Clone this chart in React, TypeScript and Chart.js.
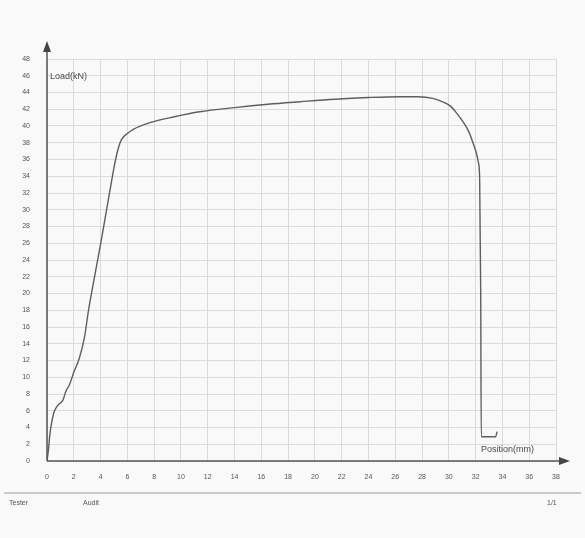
import React, { useEffect, useRef } from "react";
import { Chart, registerables } from "chart.js";

Chart.register(...registerables);

const positionMm = [
  0, 0.12, 0.2, 0.35, 0.5, 0.7, 0.9, 1.2, 1.4, 1.7, 2.0, 2.4, 2.8, 3.1, 3.4, 3.7, 4.0, 4.33, 4.7,
  5.07, 5.35, 5.57, 6.0, 6.44, 7.69, 9.5, 11.4, 14, 16.5, 18.9, 21.5, 24, 26.3, 27.7, 28.8, 29.5,
  30.1, 30.6, 31.1, 31.5, 31.8, 32.05, 32.2, 32.3, 32.38, 32.42, 33.0, 33.5, 33.6,
];
const loadKn = [
  0, 1.5, 3.0, 4.6, 5.7, 6.4, 6.8, 7.3, 8.3, 9.2, 10.6, 12.2, 14.8, 18, 20.7, 23.3, 25.9, 28.9, 32.3,
  35.6, 37.5, 38.4, 39.1, 39.6, 40.4, 41.1, 41.7, 42.2, 42.6, 42.9, 43.2, 43.4, 43.5, 43.5, 43.3, 42.9,
  42.4, 41.5, 40.4, 39.3, 38.0, 36.8, 35.7, 33.7, 20, 2.9, 2.9, 2.9, 3.5,
];
const xTicks = [0, 2, 4, 6, 8, 10, 12, 14, 16, 18, 20, 22, 24, 26, 28, 30, 32, 34, 36, 38];
const yTicks = [0, 2, 4, 6, 8, 10, 12, 14, 16, 18, 20, 22, 24, 26, 28, 30, 32, 34, 36, 38, 40, 42, 44, 46, 48];
const yTitle = "Load(kN)";
const xTitle = "Position(mm)";
const footerLeft = "Tester";
const footerMid = "Audit";
const footerRight = "1/1";

const W = 585;
const H = 538;
const FONT = "'Liberation Sans', Arial, sans-serif";

const extras = {
  id: "extras",
  beforeDraw(chart: any) {
    const ctx = chart.ctx;
    ctx.save();
    ctx.fillStyle = "#faf9fa";
    ctx.fillRect(0, 0, chart.width, chart.height);
    ctx.restore();
  },
  afterDraw(chart: any) {
    const ctx = chart.ctx;
    const { left, bottom } = chart.chartArea;
    ctx.save();
    ctx.strokeStyle = "#555";
    ctx.fillStyle = "#444";
    ctx.lineWidth = 1.5;
    // y axis with arrow
    ctx.beginPath();
    ctx.moveTo(left, bottom);
    ctx.lineTo(left, 50);
    ctx.stroke();
    ctx.beginPath();
    ctx.moveTo(left, 41);
    ctx.lineTo(left - 4, 52);
    ctx.lineTo(left + 4, 52);
    ctx.closePath();
    ctx.fill();
    // x axis with arrow
    ctx.beginPath();
    ctx.moveTo(left, bottom);
    ctx.lineTo(561, bottom);
    ctx.stroke();
    ctx.beginPath();
    ctx.moveTo(570, bottom);
    ctx.lineTo(559, bottom - 4);
    ctx.lineTo(559, bottom + 4);
    ctx.closePath();
    ctx.fill();
    // titles
    ctx.fillStyle = "#4a4a4a";
    ctx.font = "9px " + FONT;
    ctx.textBaseline = "middle";
    ctx.textAlign = "left";
    ctx.fillText(yTitle, left + 3, 77);
    ctx.fillText(xTitle, 481, 450);
    // footer line
    ctx.strokeStyle = "#999";
    ctx.lineWidth = 1;
    ctx.beginPath();
    ctx.moveTo(4, 493);
    ctx.lineTo(581, 493);
    ctx.stroke();
    ctx.fillStyle = "#555";
    ctx.font = "7px " + FONT;
    ctx.fillText(footerLeft, 9, 503);
    ctx.fillText(footerMid, 83, 503);
    ctx.fillText(footerRight, 547, 503);
    ctx.restore();
  },
};

export default function App() {
  const ref = useRef<HTMLCanvasElement | null>(null);
  useEffect(() => {
    if (!ref.current) return;
    const pts = positionMm.map((x, i) => ({ x, y: loadKn[i] }));
    const chart = new Chart(ref.current, {
      type: "scatter",
      data: {
        datasets: [
          {
            data: pts,
            showLine: true,
            borderColor: "#5e5e5e",
            borderWidth: 1.4,
            pointRadius: 0,
            cubicInterpolationMode: "monotone",
            fill: false,
          } as any,
        ],
      },
      options: {
        responsive: false,
        animation: false,
        events: [],
        layout: { padding: { left: 0, top: 59, right: 29, bottom: 0 } },
        plugins: { legend: { display: false }, tooltip: { enabled: false } },
        scales: {
          x: {
            type: "linear",
            min: 0,
            max: 38,
            afterFit: (s: any) => {
              s.height = 77;
            },
            afterBuildTicks: (s: any) => {
              s.ticks = xTicks.map((v) => ({ value: v }));
            },
            grid: { color: "#dcd9df", lineWidth: 1, drawTicks: false },
            border: { display: false },
            ticks: {
              padding: 12,
              color: "#555",
              font: { size: 7, family: FONT },
              maxRotation: 0,
              autoSkip: false,
            },
          },
          y: {
            type: "linear",
            min: 0,
            max: 48,
            afterFit: (s: any) => {
              s.width = 47;
            },
            afterBuildTicks: (s: any) => {
              s.ticks = yTicks.map((v) => ({ value: v }));
            },
            grid: { color: "#dcd9df", lineWidth: 1, drawTicks: false },
            border: { display: false },
            ticks: {
              padding: 17,
              color: "#555",
              font: { size: 7, family: FONT },
              autoSkip: false,
            },
          },
        },
      },
      plugins: [extras],
    });
    return () => chart.destroy();
  }, []);
  return (
    <div style={{ position: "fixed", left: 0, top: 0, width: W, height: H, background: "#faf9fa" }}>
      <canvas ref={ref} width={W} height={H} style={{ display: "block" }} />
    </div>
  );
}
